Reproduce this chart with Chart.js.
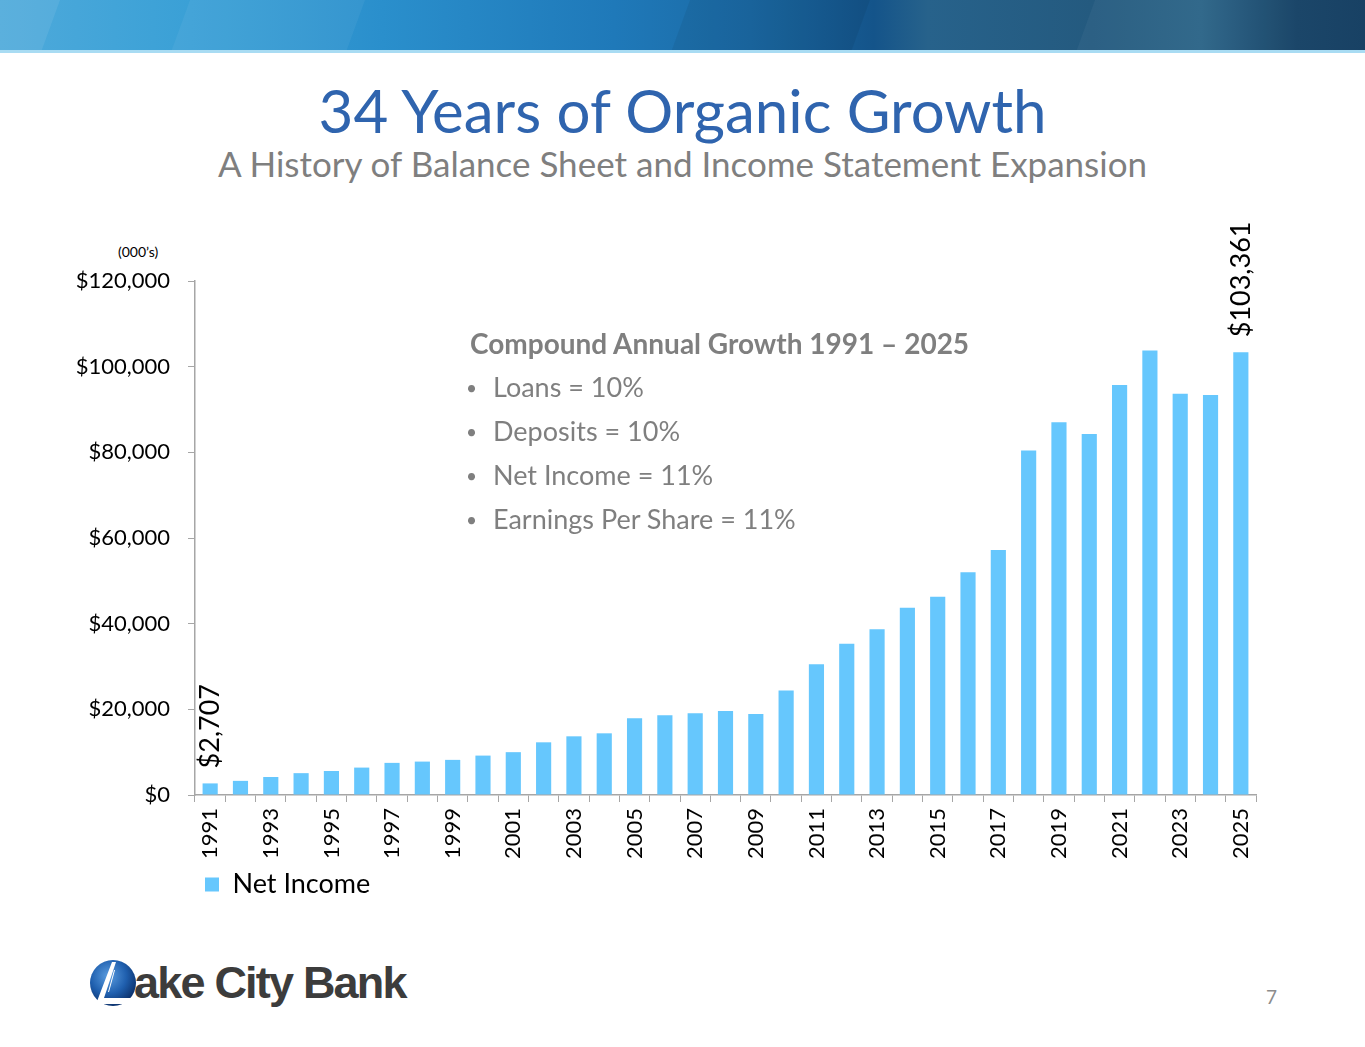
<!DOCTYPE html>
<html>
<head>
<meta charset="utf-8">
<title>34 Years of Organic Growth</title>
<script src="https://cdn.jsdelivr.net/npm/chart.js@4.4.1/dist/chart.umd.min.js"></script>
<style>
  body { margin: 0; width: 1365px; height: 1047px; position: relative; overflow: hidden; background: #fff; font-family: Lato, "Open Sans", sans-serif; }
  #band { position: absolute; left: 0; top: 0; width: 1365px; height: 50px; overflow: hidden;
    background: linear-gradient(90deg, #4eaadb 0%, #3aa0d6 14%, #2a8fcc 28%, #1f79b9 45%, #1b6aa5 55%, #14548a 64%, #27628b 68%, #245a7f 80%, #2a6387 88%, #123f63 95%, #0f3a5e 100%); }
  #band .facet { position: absolute; top: 0; height: 50px; transform: skewX(-20deg); transform-origin: top left; }
  #bandline { position: absolute; left: 0; top: 50px; width: 1365px; height: 3px; background: #a9dcf3; }
  #title { position: absolute; left: 0; width: 1365px; top: 72px; text-align: center; color: #2f64ae; font-size: 60px; line-height: 76px; }
  #subtitle { position: absolute; left: 0; width: 1365px; top: 141px; text-align: center; color: #7f7f7f; font-size: 35px; line-height: 44px; }
  #units { position: absolute; left: 118px; top: 243px; font-size: 14px; color: #000; }
  #cagr { position: absolute; left: 470px; top: 325px; color: #7f7f7f; }
  #cagr .head { font-weight: bold; font-size: 28px; height: 44px; line-height: 36px; }
  #cagr .item { font-size: 27px; height: 44px; line-height: 36px; position: relative; left: -4px; }
  #cagr .item span { display: inline-block; width: 27px; font-size: 19px; vertical-align: 2px; }
  #chartbox { position: absolute; left: 0; top: 200px; width: 1365px; height: 720px; }
  #logo { position: absolute; left: 88px; top: 954px; height: 58px; }
  #logo .word { position: absolute; left: 46px; top: 3px; font-family: "Liberation Sans", Arial, sans-serif; font-weight: bold; font-size: 45px; letter-spacing: -1.8px; color: #3c3c3c; white-space: nowrap; }
  #page { position: absolute; left: 1266px; top: 985px; color: #8c8c8c; font-size: 19px; }
</style>
</head>
<body>
<div id="band">
  <div class="facet" style="left:0;width:60px;background:rgba(255,255,255,0.08)"></div>
  <div class="facet" style="left:190px;width:175px;background:rgba(255,255,255,0.05)"></div>
  <div class="facet" style="left:690px;width:180px;background:rgba(0,0,0,0.06)"></div>
  <div class="facet" style="left:1095px;width:340px;background:rgba(255,255,255,0.04)"></div>
</div>
<div id="bandline"></div>

<div id="title">34 Years of Organic Growth</div>
<div id="subtitle">A History of Balance Sheet and Income Statement Expansion</div>
<div id="units">(000’s)</div>

<div id="chartbox"><canvas id="barChart" width="1365" height="720"></canvas></div>

<div id="cagr">
  <div class="head">Compound Annual Growth 1991 – 2025</div>
  <div class="item"><span>•</span>Loans = 10%</div>
  <div class="item"><span>•</span>Deposits = 10%</div>
  <div class="item"><span>•</span>Net Income = 11%</div>
  <div class="item"><span>•</span>Earnings Per Share = 11%</div>
</div>

<div id="logo">
  <svg width="50" height="58" viewBox="0 0 50 58">
    <defs>
      <radialGradient id="orb" cx="40%" cy="35%" r="65%">
        <stop offset="0%" stop-color="#5b9de0"/>
        <stop offset="60%" stop-color="#1f5fae"/>
        <stop offset="100%" stop-color="#0d3470"/>
      </radialGradient>
    </defs>
    <circle cx="25" cy="29" r="23" fill="url(#orb)"/>
    <polygon points="24,8 28,8 16,44 46,44 46,50 8,50" fill="#fff"/>
    <polygon points="26,16 27,16 21,38 20,38" fill="#fff"/>
  </svg>
  <div class="word">ake City Bank</div>
</div>
<div id="page">7</div>

<script>
// Net income by year, in thousands of dollars
const years = ['1991','1992','1993','1994','1995','1996','1997','1998','1999','2000',
               '2001','2002','2003','2004','2005','2006','2007','2008','2009','2010',
               '2011','2012','2013','2014','2015','2016','2017','2018','2019','2020',
               '2021','2022','2023','2024','2025'];
const netIncome = [2707, 3300, 4200, 5100, 5600, 6400, 7500, 7800, 8200, 9200,
                   10000, 12300, 13700, 14400, 17900, 18600, 19100, 19600, 18900, 24400,
                   30500, 35300, 38700, 43700, 46300, 52000, 57200, 80400, 87000, 84300,
                   95700, 103800, 93700, 93400, 103361];
const yTicks = [0, 20000, 40000, 60000, 80000, 100000, 120000];
// only the first and last bars carry a value label
const labelledBars = [0, 34];

const money = v => '$' + Number(v).toLocaleString('en-US');

// draws the vertical value labels above the chosen bars
const barLabels = {
    id: 'barLabels',
    afterDatasetsDraw(chart) {
        const ctx = chart.ctx;
        const meta = chart.getDatasetMeta(0);
        ctx.save();
        ctx.fillStyle = '#000';
        ctx.font = '27px Lato, "Open Sans", sans-serif';
        ctx.textAlign = 'left';
        ctx.textBaseline = 'middle';
        labelledBars.forEach(i => {
            const bar = meta.data[i];
            ctx.save();
            ctx.translate(bar.x, bar.y - 15);
            ctx.rotate(-Math.PI / 2);
            ctx.fillText(money(netIncome[i]), 0, 0);
            ctx.restore();
        });
        ctx.restore();
    }
};

const ctx = document.getElementById('barChart').getContext('2d');
const barChart = new Chart(ctx, {
    type: 'bar',
    data: {
        labels: years,
        datasets: [{
            label: 'Net Income',
            data: netIncome,
            backgroundColor: '#66c7fd',
            barPercentage: 0.5,
            categoryPercentage: 1.0
        }]
    },
    options: {
        responsive: false,
        animation: false,
        layout: { padding: { left: 0, right: 109, top: 81, bottom: 12 } },
        plugins: {
            legend: {
                position: 'bottom',
                align: 'start',
                fullSize: false,
                labels: {
                    boxWidth: 14,
                    boxHeight: 14,
                    padding: 10,
                    color: '#000',
                    font: { family: 'Lato', size: 27 }
                }
            },
            tooltip: { enabled: false }
        },
        scales: {
            x: {
                offset: true,
                grid: { offset: true, drawOnChartArea: false, drawTicks: true, tickLength: 7, color: '#a6a6a6' },
                border: { color: '#a6a6a6', width: 1.5 },
                ticks: {
                    autoSkip: false,
                    maxRotation: 90,
                    minRotation: 90,
                    padding: 6,
                    color: '#000',
                    font: { family: 'Lato', size: 22 },
                    callback: (v, i) => (i % 2 === 0 ? years[i] : '')
                },
                afterFit: s => { s.height = 66; }
            },
            y: {
                min: 0,
                max: 120000,
                afterBuildTicks: s => { s.ticks = yTicks.map(v => ({ value: v })); },
                grid: { drawOnChartArea: false, drawTicks: true, tickLength: 7, color: '#a6a6a6' },
                border: { color: '#a6a6a6', width: 1.5 },
                ticks: {
                    padding: 18,
                    color: '#000',
                    font: { family: 'Lato', size: 22 },
                    callback: v => money(v)
                },
                afterFit: s => { s.width = 195; }
            }
        }
    },
    plugins: [barLabels]
});
</script>
</body>
</html>
